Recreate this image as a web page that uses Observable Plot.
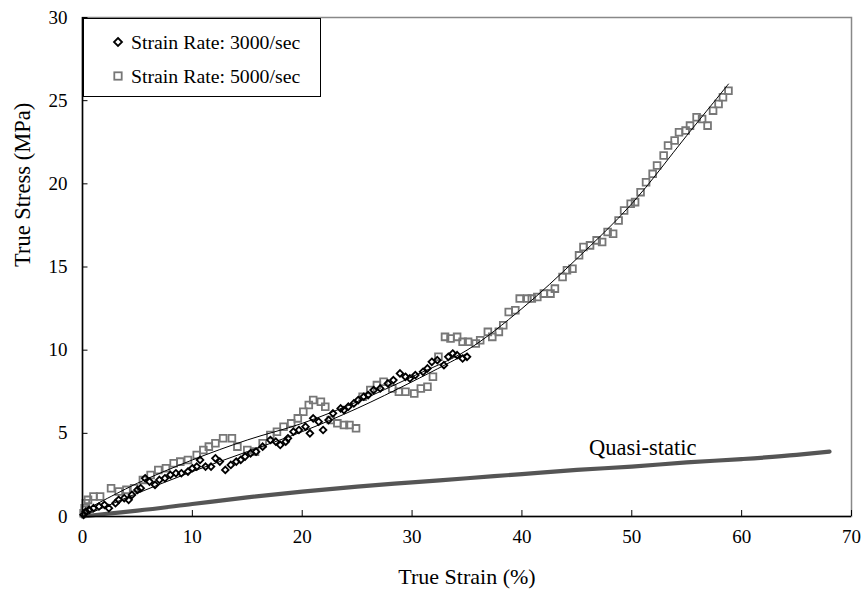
<!DOCTYPE html>
<html>
<head>
<meta charset="utf-8">
<script src="https://cdn.jsdelivr.net/npm/d3@7"></script>
<script src="https://cdn.jsdelivr.net/npm/@observablehq/plot@0.6"></script>
<style>
  html, body { margin: 0; padding: 0; background: #fff; }
  #wrap { position: relative; width: 865px; height: 599px; font-family: "Liberation Serif", "Times New Roman", serif; }
  #legend { position: absolute; left: 83px; top: 18px; width: 238px; height: 79px; border: 1px solid #000; background: #fff; box-sizing: border-box; }
  .row { position: absolute; left: 0; height: 24px; display: flex; align-items: center; font-size: 19.8px; color: #000; white-space: nowrap; }
  .row svg { margin-left: 28px; margin-right: 7px; }
</style>
</head>
<body>
<div id="wrap"></div>
<script>
// ---- data ----
const seriesNames = ["Strain Rate: 3000/sec", "Strain Rate: 5000/sec", "Quasi-static"];

const strain3000 = [0.1,0.3,0.6,1.0,1.5,2.0,2.4,3.0,3.3,3.8,4.2,4.5,5.0,5.3,5.7,6.1,6.6,7.0,7.5,8.0,8.5,9.0,9.6,10.0,10.4,10.7,11.2,11.7,12.1,12.5,13.0,13.5,14.0,14.4,14.8,15.3,15.8,16.4,17.1,17.6,18.0,18.5,18.7,19.2,19.7,20.3,20.7,21.0,21.5,21.9,22.4,22.8,23.5,23.8,24.2,24.7,25.1,25.6,26.0,26.5,27.1,27.8,28.3,28.9,29.4,29.8,30.3,31.0,31.4,31.8,32.3,32.9,33.3,33.7,34.1,34.6,35.0];
const stress3000 = [0.1,0.3,0.4,0.5,0.6,0.7,0.5,0.8,1.0,1.1,1.0,1.3,1.6,1.7,2.3,2.1,1.9,2.2,2.3,2.5,2.6,2.6,2.7,2.9,3.0,3.4,3.0,3.0,3.5,3.3,2.8,3.1,3.3,3.4,3.6,3.8,3.9,4.2,4.6,4.5,4.3,4.5,4.7,5.1,5.2,5.4,5.0,5.9,5.7,5.2,5.8,6.2,6.5,6.4,6.6,6.8,7.0,7.2,7.3,7.6,7.7,8.0,8.2,8.6,8.4,8.3,8.5,8.7,8.9,9.3,9.4,9.1,9.6,9.8,9.7,9.5,9.6];

const strain5000 = [0.1,0.2,0.3,0.5,1.0,1.6,2.6,3.3,4.0,4.7,5.5,6.2,6.9,7.6,8.3,8.9,9.6,10.4,11.0,11.5,12.1,12.8,13.6,14.1,15.0,15.7,16.4,17.1,17.7,18.3,19.0,19.6,20.1,20.6,21.0,21.7,22.1,22.6,23.2,23.8,24.3,24.9,25.5,26.2,26.8,27.4,28.2,28.8,29.4,30.2,30.8,31.4,31.9,32.4,33.0,33.5,34.1,34.6,35.1,35.8,36.2,36.9,37.3,37.9,38.3,38.8,39.4,39.8,40.5,40.9,41.4,42.0,42.6,43.0,43.7,44.1,44.6,45.2,45.6,46.2,46.8,47.3,47.8,48.3,48.8,49.3,49.9,50.3,50.8,51.3,51.9,52.3,52.9,53.3,53.9,54.3,54.9,55.3,55.9,56.4,56.9,57.4,57.9,58.3,58.8];
const stress5000 = [0.2,0.5,0.8,1.0,1.2,1.2,1.7,1.5,1.6,1.7,2.2,2.5,2.8,2.9,3.2,3.3,3.4,3.7,4.0,4.2,4.4,4.7,4.7,4.2,4.0,3.9,4.4,4.9,5.1,5.4,5.6,5.9,6.3,6.7,7.0,6.9,6.6,5.8,5.6,5.5,5.5,5.3,7.2,7.6,7.9,8.1,7.7,7.5,7.5,7.4,7.7,7.8,8.4,9.6,10.8,10.7,10.8,10.5,10.5,10.4,10.6,11.1,10.8,11.1,11.5,12.3,12.4,13.1,13.1,13.1,13.2,13.4,13.4,13.7,14.4,14.8,14.9,15.7,16.2,16.3,16.6,16.5,17.1,17.0,17.8,18.4,18.8,18.9,19.5,20.1,20.6,21.1,21.7,22.3,22.6,23.1,23.2,23.5,24.0,23.9,23.5,24.4,24.8,25.2,25.6];

const trendStrain3000 = [0,5,10,15,20,25,30,35];
const trendStress3000 = [0,1.4,2.7,3.9,5.1,6.5,8.1,9.8];
const trendStrain5000 = [0,5,10,15,20,25,30,35,40,45,50,55,58.8];
const trendStress5000 = [0.3,2.0,3.4,4.6,5.6,6.9,8.4,10.0,12.5,15.5,18.8,22.9,26.0];

const strainQS = [0,2,5,10,15,20,25,30,35,40,45,50,55,60,65,68];
const stressQS = [0,0.15,0.35,0.75,1.15,1.5,1.8,2.05,2.3,2.55,2.8,3.0,3.25,3.45,3.7,3.9];

const xTicks = [0,10,20,30,40,50,60,70];
const yTicks = [0,5,10,15,20,25,30];
const xTitle = "True Strain (%)";
const yTitle = "True Stress (MPa)";

// ---- build tables ----
const d3000 = strain3000.map((x,i)=>({x, y: stress3000[i]}));
const d5000 = strain5000.map((x,i)=>({x, y: stress5000[i]}));
const t3000 = trendStrain3000.map((x,i)=>({x, y: trendStress3000[i]}));
const t5000 = trendStrain5000.map((x,i)=>({x, y: trendStress5000[i]}));
const dQS = strainQS.map((x,i)=>({x, y: stressQS[i]}));
const qsLabel = [{x: 51.0, y: 4.15, text: seriesNames[2]}];

const font = "'Liberation Serif', 'Times New Roman', serif";

const chart = Plot.plot({
  width: 865,
  height: 599,
  marginLeft: 82,
  marginRight: 14,
  marginTop: 17,
  marginBottom: 83,
  style: {fontFamily: font, background: "#fff", color: "#000", overflow: "visible"},
  x: {domain: [0,70]},
  y: {domain: [0,30]},
  marks: [
    Plot.frame({stroke: "#888", strokeWidth: 1.5}),
    Plot.axisX({ticks: xTicks, tickSize: 0, tickPadding: 13, fontSize: 19, label: null, tickFormat: d => String(d)}),
    Plot.axisY({ticks: yTicks, tickSize: 0, tickPadding: 15, fontSize: 19, label: null, tickFormat: d => String(d)}),
    Plot.ruleX(xTicks, {x: d => d, y1: 0, y2: 0.36, stroke: "#000", strokeWidth: 1}),
    Plot.ruleY(yTicks, {y: d => d, x1: 0, x2: 0.5, stroke: "#000", strokeWidth: 1}),
    Plot.line(dQS, {x: "x", y: "y", stroke: "#555", strokeWidth: 4.2, curve: "monotone-x"}),
    Plot.dot(d5000, {x: "x", y: "y", symbol: "square", r: 3.8, stroke: "#777", strokeWidth: 1.8, fill: "none"}),
    Plot.dot(d3000, {x: "x", y: "y", symbol: "diamond2", r: 3.0, stroke: "#000", strokeWidth: 1.8, fill: "none"}),
    Plot.line(t3000, {x: "x", y: "y", stroke: "#000", strokeWidth: 1, curve: "catmull-rom"}),
    Plot.line(t5000, {x: "x", y: "y", stroke: "#000", strokeWidth: 1, curve: "catmull-rom"}),
    Plot.ruleX([0], {stroke: "#000", strokeWidth: 1.5}),
    Plot.ruleY([0], {stroke: "#000", strokeWidth: 1.5}),
    Plot.text(qsLabel, {x: "x", y: "y", text: "text", fontSize: 22.5, fill: "#000"}),
    Plot.text([xTitle], {frameAnchor: "bottom", dy: 67, fontSize: 22, fill: "#000"}),
    Plot.text([yTitle], {frameAnchor: "left", dx: -60, rotate: -90, fontSize: 22.5, fill: "#000"})
  ]
});

const wrap = document.getElementById("wrap");
wrap.appendChild(chart);

// legend (inside plot area, top-left)
const legend = document.createElement("div");
legend.id = "legend";
legend.innerHTML = `
  <div class="row" style="top:11px"><svg width="12" height="12" viewBox="-6 -6 12 12"><path d="M0,-4L4,0L0,4L-4,0Z" fill="none" stroke="#000" stroke-width="1.8"/></svg><span>${seriesNames[0]}</span></div>
  <div class="row" style="top:45px"><svg width="12" height="12" viewBox="-6 -6 12 12"><rect x="-3.7" y="-3.7" width="7.4" height="7.4" fill="none" stroke="#777" stroke-width="1.8"/></svg><span>${seriesNames[1]}</span></div>`;
wrap.appendChild(legend);
</script>
</body>
</html>
